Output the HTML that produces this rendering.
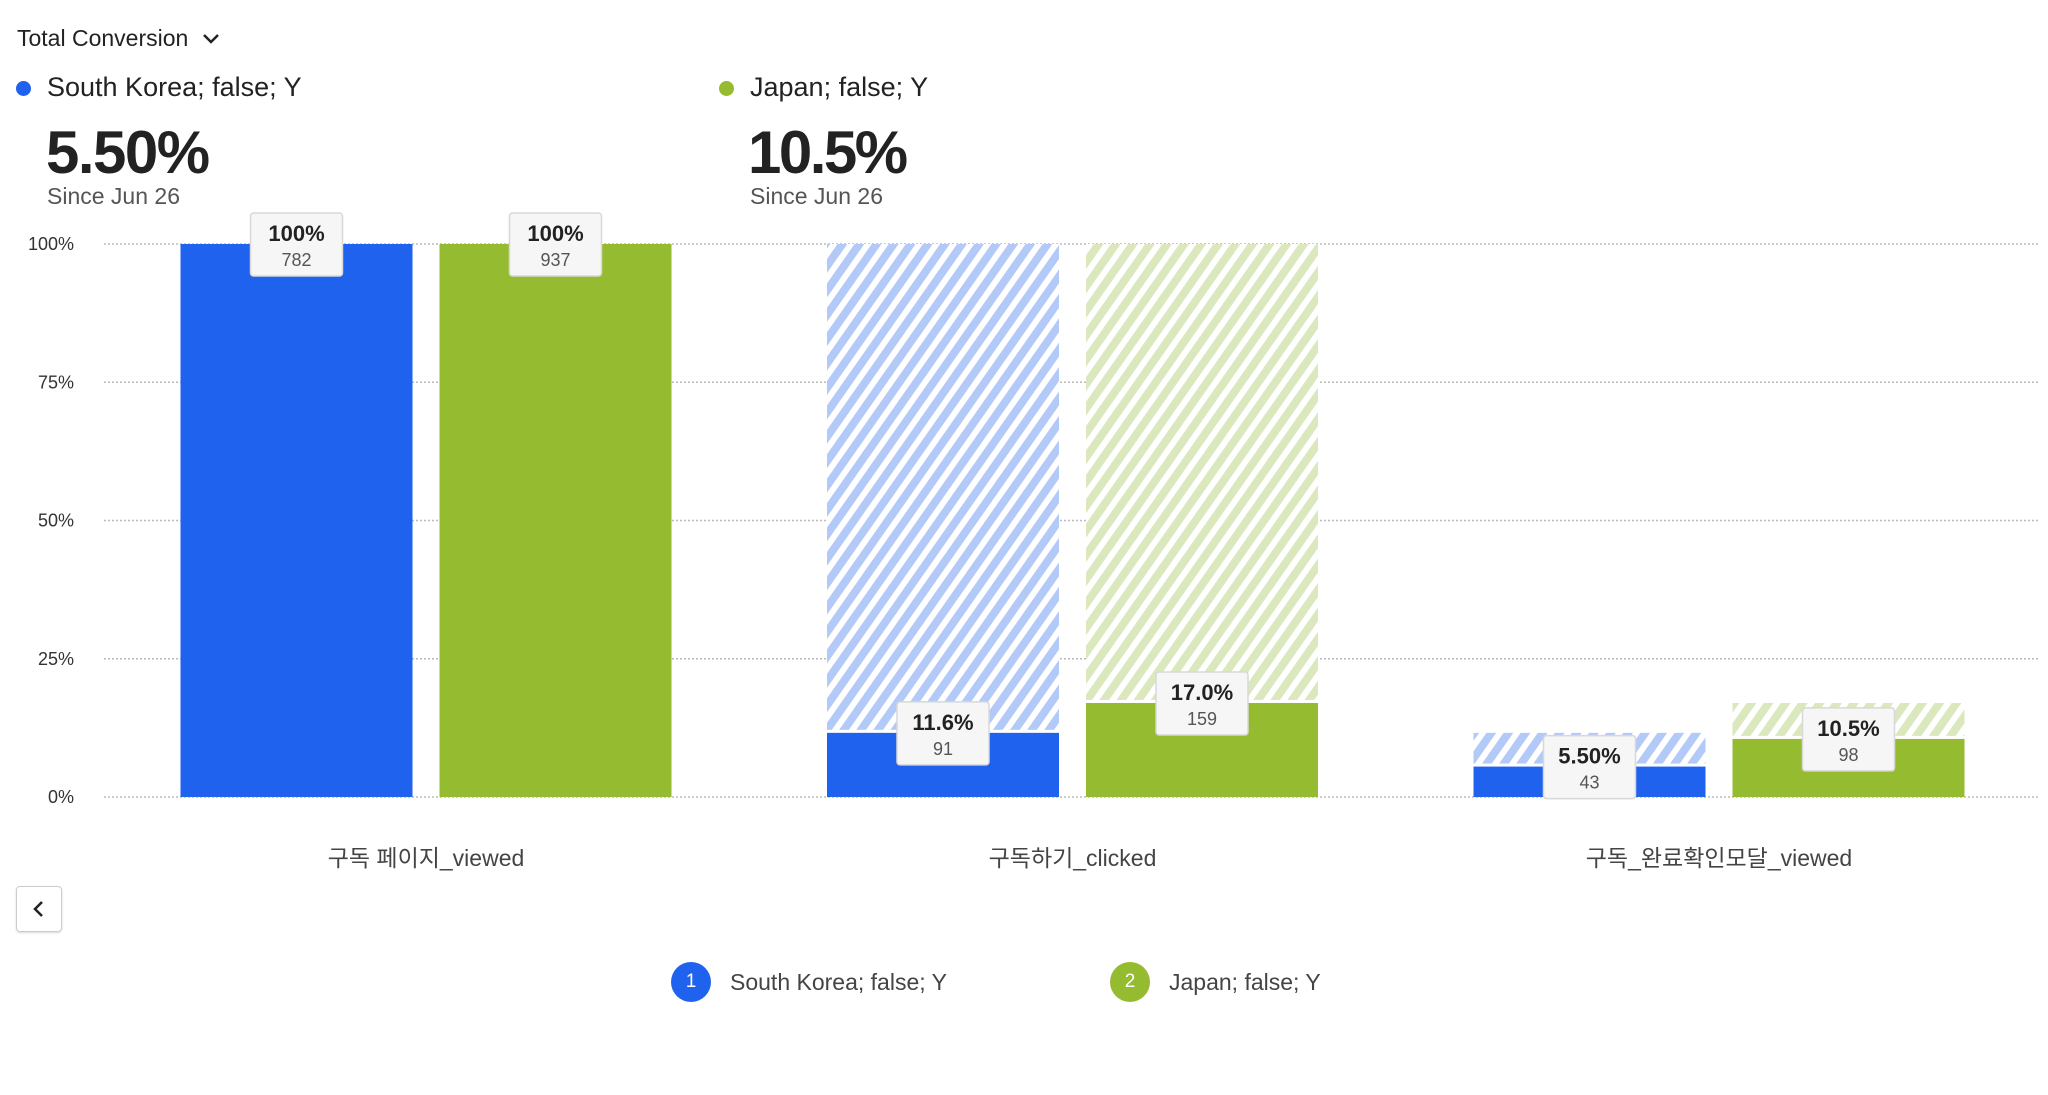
<!DOCTYPE html>
<html><head><meta charset="utf-8">
<style>
body{margin:0;width:2048px;height:1095px;background:#fff;font-family:"Liberation Sans","Noto Sans CJK KR",sans-serif;overflow:hidden;position:relative;color:#222}
.abs{position:absolute}
</style></head>
<body>
<div class="abs" style="left:17px;top:25px;font-size:23px;color:#222">Total Conversion <svg width="20" height="14" viewBox="0 0 20 14" style="margin-left:6px"><path d="M3 3 L10 10 L17 3" fill="none" stroke="#222" stroke-width="2.5"/></svg></div>

<div>
<div class="abs" style="left:16px;top:81px;width:15px;height:15px;border-radius:50%;background:#1e62ed"></div>
<div class="abs" style="left:47px;top:72px;font-size:27px">South Korea; false; Y</div>
<div class="abs" style="left:46px;top:118px;font-size:60px;font-weight:bold;letter-spacing:-1.5px">5.50%</div>
<div class="abs" style="left:47px;top:183px;font-size:23px;color:#555">Since Jun 26</div>
</div>
<div>
<div class="abs" style="left:719px;top:81px;width:15px;height:15px;border-radius:50%;background:#95bb31"></div>
<div class="abs" style="left:750px;top:72px;font-size:27px">Japan; false; Y</div>
<div class="abs" style="left:748px;top:118px;font-size:60px;font-weight:bold;letter-spacing:-2.5px">10.5%</div>
<div class="abs" style="left:750px;top:183px;font-size:23px;color:#555">Since Jun 26</div>
</div>

<svg class="abs" style="left:0;top:0" width="2048" height="1095" id="chart">
<defs>
<pattern id="hb" patternUnits="userSpaceOnUse" width="14" height="14" patternTransform="rotate(35)"><rect width="14" height="14" fill="#fff"/><rect width="8" height="14" fill="#b3c9f8"/></pattern>
<pattern id="hg" patternUnits="userSpaceOnUse" width="14" height="14" patternTransform="rotate(35)"><rect width="14" height="14" fill="#fff"/><rect width="8" height="14" fill="#dbe8bd"/></pattern>
</defs>
</svg>

<div class="abs" style="left:16px;top:886px;width:44px;height:44px;border:1px solid #ccc;border-radius:4px;box-shadow:0 1px 2px rgba(0,0,0,.15)"><svg width="44" height="44"><path d="M25 15 L18 22 L25 29" fill="none" stroke="#222" stroke-width="2.5"/></svg></div>

<div>
<div class="abs" style="left:671px;top:962px;width:40px;height:40px;border-radius:50%;background:#1e62ed;color:#fff;font-size:19px;text-align:center;line-height:40px">1</div>
<div class="abs" style="left:730px;top:969px;font-size:23px;color:#444">South Korea; false; Y</div>
</div>
<div>
<div class="abs" style="left:1110px;top:962px;width:40px;height:40px;border-radius:50%;background:#95bb31;color:#fff;font-size:19px;text-align:center;line-height:40px">2</div>
<div class="abs" style="left:1169px;top:969px;font-size:23px;color:#444">Japan; false; Y</div>
</div>

<script>
const categories=["구독 페이지_viewed","구독하기_clicked","구독_완료확인모달_viewed"];
const koreaValues=[100,11.6,5.5];
const japanValues=[100,17.0,10.5];
const koreaCounts=[782,91,43];
const japanCounts=[937,159,98];
const koreaLabels=["100%","11.6%","5.50%"];
const japanLabels=["100%","17.0%","10.5%"];
const yTicks=[0,25,50,75,100];

const svg=document.getElementById('chart');
const NS='http://www.w3.org/2000/svg';
const y0=797,y100=244;
const y=v=>y0-(y0-y100)*v/100;
const groupX=i=>426+i*646.5;
const barW=232,gap=27;
function mk(t,a){const e=document.createElementNS(NS,t);for(const k in a)e.setAttribute(k,a[k]);svg.appendChild(e);return e;}
yTicks.forEach(t=>{
  const l=mk('line',{x1:104,x2:2040,y1:y(t),y2:y(t),stroke:'#bbb','stroke-dasharray':'2 2','stroke-width':1.5});
  
  
  const tx=mk('text',{x:74,y:y(t)+6,'text-anchor':'end','font-size':18,fill:'#333'});
  tx.textContent=t+'%';
  
  
});
const labels=[];
[[koreaValues,koreaCounts,koreaLabels,'#1e62ed','url(#hb)',-1],[japanValues,japanCounts,japanLabels,'#95bb31','url(#hg)',1]].forEach(([vals,counts,lbls,col,hatch,side])=>{
  vals.forEach((v,i)=>{
    const x=side<0?groupX(i)-gap/2-barW:groupX(i)+gap/2;
    if(i>0){
      const g=mk('rect',{x:x,y:y(vals[i-1]),width:barW,height:y(v)-y(vals[i-1])-3,fill:hatch});
      
      
    }
    const b=mk('rect',{x:x,y:y(v),width:barW,height:y0-y(v),fill:col});
    
    
    labels.push([x+barW/2,y(v),lbls[i],counts[i]]);
  });
});
categories.forEach((c,i)=>{
  const t=mk('text',{x:groupX(i),y:866,'text-anchor':'middle','font-size':23,fill:'#444'});
  t.textContent=c;
  
  
});
labels.forEach(([cx,cy,l,n])=>{
  const r=mk('rect',{x:cx-46,y:cy-31,width:92,height:63,rx:3,fill:'#f6f6f6',stroke:'#d8d8d8','stroke-width':1.5});
  
  
  const t1=mk('text',{x:cx,y:cy-3,'text-anchor':'middle','font-size':22,'font-weight':'bold',fill:'#222'});
  t1.textContent=l;
  
  
  const t2=mk('text',{x:cx,y:cy+22,'text-anchor':'middle','font-size':18,fill:'#555'});
  t2.textContent=n;
  
  
});
</script>
</body></html>
